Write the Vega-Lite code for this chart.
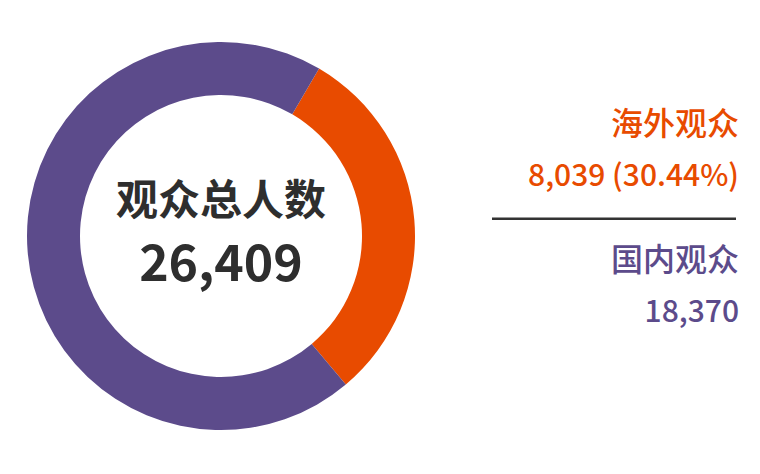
{
  "$schema": "https://vega.github.io/schema/vega-lite/v6.json",
  "padding": 0,
  "spacing": 48,
  "background": "white",
  "config": {"view": {"stroke": null}, "font": "Noto Sans CJK SC"},
  "datasets": {
    "audience": [
      {"group": "海外观众", "count": 8039, "label": "8,039 (30.44%)", "idx": 1},
      {"group": "国内观众", "count": 18370, "label": "18,370", "idx": 2}
    ],
    "summary": [{"title": "观众总人数", "total": "26,409"}]
  },
  "hconcat": [
    {
      "width": 442,
      "height": 472,
      "layer": [
        {
          "data": {"name": "audience"},
          "mark": {"type": "arc", "outerRadius": 194, "innerRadius": 141},
          "encoding": {
            "theta": {"field": "count", "type": "quantitative", "stack": true, "scale": {"range": [0.53, 6.8132]}},
            "order": {"field": "idx", "type": "quantitative"},
            "color": {"field": "group", "type": "nominal", "legend": null,
              "scale": {"domain": ["海外观众", "国内观众"], "range": ["#E84B00", "#5C4B8B"]}}
          }
        },
        {
          "data": {"name": "summary"},
          "mark": {"type": "text", "fontSize": 42, "fontWeight": "bold", "color": "#2E2E2E", "baseline": "middle", "align": "center", "dy": -34},
          "encoding": {"text": {"field": "title"}}
        },
        {
          "data": {"name": "summary"},
          "mark": {"type": "text", "fontSize": 50, "fontWeight": "bold", "color": "#2E2E2E", "baseline": "middle", "align": "center", "dy": 30},
          "encoding": {"text": {"field": "total"}}
        }
      ]
    },
    {
      "width": 244,
      "height": 472,
      "data": {"name": "audience"},
      "layer": [
        {
          "mark": {"type": "text", "fontSize": 32, "fontWeight": 500, "align": "right", "baseline": "middle", "x": "width", "dx": 3, "dy": -26},
          "encoding": {
            "y": {"field": "group", "type": "nominal", "axis": null,
              "scale": {"domain": ["海外观众", "国内观众"], "range": [83.25, 354.25], "paddingInner": 0, "paddingOuter": 0}},
            "text": {"field": "group"},
            "color": {"field": "group", "type": "nominal", "legend": null,
              "scale": {"domain": ["海外观众", "国内观众"], "range": ["#E2561A", "#5E4F8F"]}}
          }
        },
        {
          "mark": {"type": "text", "fontSize": 30, "fontWeight": 500, "align": "right", "baseline": "middle", "x": "width", "dx": 3, "dy": 26},
          "encoding": {
            "y": {"field": "group", "type": "nominal", "axis": null},
            "text": {"field": "label"},
            "color": {"field": "group", "type": "nominal", "legend": null}
          }
        },
        {
          "transform": [{"filter": "datum.group === '海外观众'"}],
          "mark": {"type": "rule", "strokeWidth": 2.5, "color": "#333333"},
          "encoding": {
            "y": {"field": "group", "type": "nominal", "axis": null, "bandPosition": 1}
          }
        }
      ]
    }
  ]
}
